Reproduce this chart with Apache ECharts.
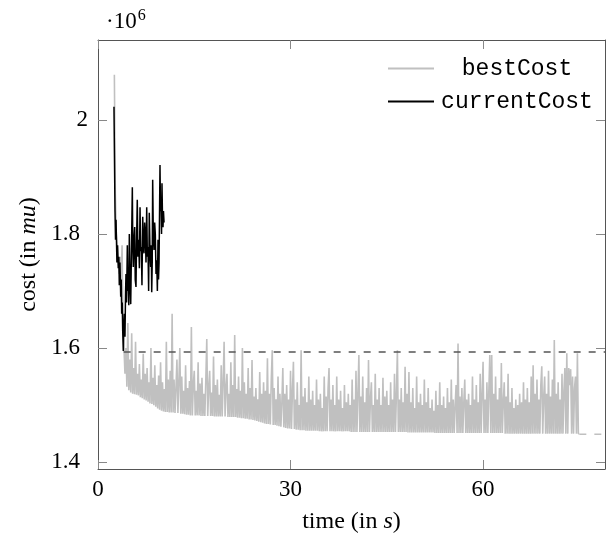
<!DOCTYPE html>
<html>
<head>
<meta charset="utf-8">
<script src="https://cdn.jsdelivr.net/npm/echarts@6/dist/echarts.min.js"></script>
<style>
  html, body { margin: 0; padding: 0; background: #fff; }
  #chart { width: 608px; height: 544px; }
</style>
</head>
<body>
<div id="chart"></div>
<script>
const xTicks = [0, 30, 60];
const yTicks = [1.4, 1.6, 1.8, 2];
const seriesNames = ['bestCost', 'currentCost'];

// bestCost is logged on a regular time grid (s), cost in 10^6 mu
const bestCostStart = 2.55;
const bestCostStep = 0.15;
const bestCostValues = [
  2.079, 1.87, 1.80, 1.78, 1.75, 1.73, 1.76, 1.72, 1.78, 1.64,
  1.60, 1.555, 1.60, 1.532, 1.644, 1.526, 1.58, 1.522, 1.626, 1.52,
  1.565, 1.519, 1.611, 1.518, 1.555, 1.517, 1.572, 1.514, 1.545, 1.512,
  1.59, 1.51, 1.555, 1.508, 1.565, 1.506, 1.54, 1.503, 1.60, 1.502,
  1.548, 1.50, 1.57, 1.497, 1.535, 1.494, 1.552, 1.492, 1.575, 1.49,
  1.54, 1.489, 1.528, 1.488, 1.611, 1.488, 1.545, 1.487, 1.56, 1.487,
  1.66, 1.487, 1.545, 1.486, 1.53, 1.58, 1.486, 1.54, 1.60, 1.485,
  1.55, 1.485, 1.525, 1.484, 1.57, 1.483, 1.53, 1.483, 1.542, 1.482,
  1.637, 1.482, 1.535, 1.56, 1.482, 1.525, 1.482, 1.575, 1.482, 1.538,
  1.481, 1.548, 1.481, 1.52, 1.481, 1.545, 1.616, 1.481, 1.53, 1.56,
  1.481, 1.522, 1.481, 1.585, 1.480, 1.535, 1.480, 1.545, 1.480, 1.518,
  1.48, 1.57, 1.48, 1.54, 1.611, 1.48, 1.53, 1.555, 1.479, 1.52,
  1.479, 1.575, 1.479, 1.535, 1.479, 1.623, 1.479, 1.528, 1.478, 1.55,
  1.478, 1.525, 1.477, 1.60, 1.477, 1.54, 1.476, 1.52, 1.476, 1.565,
  1.475, 1.53, 1.475, 1.579, 1.474, 1.515, 1.473, 1.53, 1.472, 1.51,
  1.471, 1.558, 1.470, 1.52, 1.469, 1.54, 1.468, 1.525, 1.467, 1.582,
  1.467, 1.52, 1.466, 1.545, 1.596, 1.465, 1.53, 1.465, 1.51, 1.464,
  1.55, 1.463, 1.52, 1.462, 1.505, 1.565, 1.461, 1.52, 1.46, 1.535,
  1.459, 1.51, 1.459, 1.56, 1.458, 1.525, 1.576, 1.458, 1.51, 1.457,
  1.54, 1.457, 1.50, 1.456, 1.596, 1.456, 1.515, 1.456, 1.53, 1.455,
  1.505, 1.455, 1.55, 1.455, 1.51, 1.455, 1.525, 1.455, 1.50, 1.455,
  1.545, 1.455, 1.51, 1.454, 1.52, 1.454, 1.495, 1.454, 1.55, 1.454,
  1.515, 1.454, 1.53, 1.565, 1.454, 1.51, 1.454, 1.535, 1.454, 1.50,
  1.454, 1.55, 1.454, 1.51, 1.454, 1.525, 1.454, 1.495, 1.454, 1.535,
  1.454, 1.505, 1.454, 1.52, 1.454, 1.50, 1.453, 1.545, 1.453, 1.51,
  1.453, 1.56, 1.453, 1.52, 1.588, 1.453, 1.515, 1.453, 1.55, 1.453,
  1.505, 1.453, 1.53, 1.453, 1.579, 1.453, 1.51, 1.54, 1.453, 1.50,
  1.453, 1.555, 1.453, 1.51, 1.453, 1.53, 1.453, 1.50, 1.453, 1.548,
  1.453, 1.515, 1.453, 1.525, 1.453, 1.50, 1.453, 1.54, 1.453, 1.51,
  1.453, 1.555, 1.453, 1.52, 1.596, 1.453, 1.51, 1.453, 1.53, 1.453,
  1.505, 1.453, 1.567, 1.453, 1.52, 1.452, 1.558, 1.452, 1.505, 1.452,
  1.53, 1.452, 1.495, 1.452, 1.55, 1.452, 1.505, 1.452, 1.52, 1.452,
  1.50, 1.452, 1.545, 1.452, 1.505, 1.452, 1.53, 1.452, 1.495, 1.452,
  1.51, 1.452, 1.49, 1.451, 1.525, 1.451, 1.50, 1.451, 1.54, 1.451,
  1.50, 1.451, 1.515, 1.451, 1.495, 1.451, 1.53, 1.451, 1.505, 1.451,
  1.545, 1.451, 1.51, 1.451, 1.50, 1.535, 1.451, 1.608, 1.451, 1.515,
  1.451, 1.53, 1.451, 1.505, 1.545, 1.451, 1.51, 1.451, 1.52, 1.451,
  1.50, 1.451, 1.55, 1.451, 1.51, 1.451, 1.535, 1.451, 1.505, 1.451,
  1.555, 1.451, 1.52, 1.576, 1.451, 1.51, 1.451, 1.54, 1.451, 1.525,
  1.588, 1.451, 1.588, 1.451, 1.52, 1.451, 1.55, 1.451, 1.51, 1.451,
  1.53, 1.451, 1.574, 1.451, 1.505, 1.54, 1.450, 1.515, 1.450, 1.555,
  1.450, 1.505, 1.450, 1.53, 1.450, 1.495, 1.450, 1.51, 1.450, 1.50,
  1.450, 1.52, 1.450, 1.505, 1.450, 1.54, 1.450, 1.51, 1.450, 1.53,
  1.450, 1.505, 1.450, 1.55, 1.450, 1.570, 1.450, 1.52, 1.450, 1.545,
  1.450, 1.51, 1.450, 1.535, 1.568, 1.450, 1.515, 1.55, 1.450, 1.52,
  1.450, 1.56, 1.450, 1.515, 1.450, 1.545, 1.450, 1.614, 1.450, 1.52,
  1.450, 1.54, 1.450, 1.51, 1.450, 1.555, 1.450, 1.525, 1.565, 1.450,
  1.591, 1.450, 1.565, 1.535, 1.563, 1.450, 1.55, 1.450, 1.53, 1.55,
  1.450, 1.591, 1.450, 1.450
];

// [time in s, cost in 10^6 mu]
const currentCost = [
  [2.49, 2.023], [2.57, 1.93], [2.65, 1.84], [2.73, 1.79], [2.81, 1.825], [2.95, 1.75], [3.05, 1.78],
  [3.16, 1.74], [3.25, 1.76], [3.32, 1.71], [3.42, 1.75], [3.54, 1.69], [3.62, 1.72], [3.69, 1.66],
  [3.78, 1.68], [3.85, 1.63], [3.94, 1.595], [4.02, 1.64], [4.10, 1.66], [4.2, 1.62], [4.3, 1.70],
  [4.36, 1.73], [4.45, 1.68], [4.57, 1.78], [4.65, 1.70], [4.72, 1.72], [4.8, 1.675], [4.88, 1.80],
  [4.98, 1.72], [5.10, 1.677], [5.2, 1.76], [5.35, 1.882], [5.42, 1.78], [5.50, 1.742], [5.6, 1.79],
  [5.72, 1.812], [5.8, 1.72], [5.92, 1.707], [6.0, 1.78], [6.12, 1.86], [6.22, 1.76], [6.34, 1.79],
  [6.45, 1.74], [6.55, 1.847], [6.65, 1.77], [6.75, 1.777], [6.85, 1.71], [6.97, 1.83], [7.07, 1.78],
  [7.17, 1.766], [7.27, 1.82], [7.37, 1.80], [7.48, 1.75], [7.59, 1.847], [7.69, 1.76], [7.79, 1.777],
  [7.89, 1.70], [7.99, 1.837], [8.1, 1.77], [8.21, 1.742], [8.3, 1.78], [8.37, 1.698], [8.45, 1.75],
  [8.52, 1.895], [8.62, 1.80], [8.73, 1.772], [8.83, 1.82], [8.93, 1.80], [9.04, 1.73], [9.15, 1.754],
  [9.25, 1.70], [9.35, 1.79], [9.43, 1.72], [9.51, 1.749], [9.6, 1.85], [9.66, 1.921], [9.74, 1.84],
  [9.82, 1.86], [9.9, 1.80], [9.97, 1.889], [10.05, 1.83], [10.13, 1.812], [10.2, 1.84], [10.29, 1.82]
];

// dashed reference levels
const currentCostLevel = [[4.0, 1.593], [79, 1.593]];
const bestCostLevel = [[75, 1.449], [79, 1.449]];

const bestCost = bestCostValues.map((v, i) => [+(bestCostStart + i * bestCostStep).toFixed(2), v]);

const serif = '"Liberation Serif", "DejaVu Serif", serif';
const mono = '"Liberation Mono", "DejaVu Sans Mono", monospace';
const axisColor = '#555';
const tickColor = '#888';

const chart = echarts.init(document.getElementById('chart'));

function frameAxis(position, min, max, ticks) {
  return {
    type: 'value',
    position: position,
    min: min,
    max: max,
    axisLine: { show: true, onZero: false, lineStyle: { color: axisColor, width: 1 } },
    axisTick: { show: true, inside: true, length: 9, customValues: ticks, lineStyle: { color: tickColor } },
    axisLabel: { show: false },
    splitLine: { show: false },
  };
}

chart.setOption({
  animation: false,
  backgroundColor: '#fff',
  grid: { left: 98, right: 3, top: 40, bottom: 75, outerBoundsMode: 'none' },
  legend: {
    data: seriesNames,
    orient: 'vertical',
    left: 388,
    top: 57,
    padding: 0,
    itemGap: 10,
    itemWidth: 46,
    itemHeight: 2,
    icon: 'rect',
    formatter: (name) => '{t|' + name + '}',
    textStyle: {
      rich: {
        t: { fontFamily: mono, fontSize: 23, width: 156, align: 'center', lineHeight: 22, color: '#000' },
      },
    },
  },
  graphic: [
    {
      type: 'text',
      left: 106,
      top: 8,
      style: {
        text: '{a|·10}{b|6}',
        rich: {
          a: { fontFamily: serif, fontSize: 23, fill: '#000' },
          b: { fontFamily: serif, fontSize: 16, fill: '#000', padding: [0, 0, 12, 1] },
        },
      },
    },
  ],
  xAxis: [
    {
      type: 'value',
      position: 'bottom',
      min: 0,
      max: 79,
      interval: 30,
      name: '{r|time (in }{i|s}{r|)}',
      nameLocation: 'middle',
      nameGap: 41,
      nameTextStyle: {
        rich: {
          r: { fontFamily: serif, fontSize: 24, color: '#000' },
          i: { fontFamily: serif, fontSize: 24, fontStyle: 'italic', color: '#000' },
        },
      },
      axisLine: { show: true, onZero: false, lineStyle: { color: axisColor, width: 1 } },
      axisTick: { show: true, inside: true, length: 9, customValues: xTicks, lineStyle: { color: tickColor } },
      axisLabel: { customValues: xTicks, margin: 9, fontFamily: serif, fontSize: 23, color: '#000' },
      splitLine: { show: false },
    },
    frameAxis('top', 0, 79, xTicks),
  ],
  yAxis: [
    {
      type: 'value',
      position: 'left',
      min: 1.388,
      max: 2.14,
      name: '{r|cost (in }{i|mu}{r|)}',
      nameLocation: 'middle',
      nameGap: 56,
      nameTextStyle: {
        rich: {
          r: { fontFamily: serif, fontSize: 24, color: '#000' },
          i: { fontFamily: serif, fontSize: 24, fontStyle: 'italic', color: '#000' },
        },
      },
      axisLine: { show: true, onZero: false, lineStyle: { color: axisColor, width: 1 } },
      axisTick: { show: true, inside: true, length: 9, customValues: yTicks, lineStyle: { color: tickColor } },
      axisLabel: {
        customValues: yTicks,
        margin: 10,
        formatter: (v) => (v === 2 ? '{w|2}' : '{n|' + v.toFixed(1) + '}'),
        rich: {
          w: { fontFamily: serif, fontSize: 23, color: '#000' },
          n: { fontFamily: serif, fontSize: 23, color: '#000', padding: [0, 8, 0, 0] },
        },
      },
      splitLine: { show: false },
    },
    frameAxis('right', 1.388, 2.14, yTicks),
  ],
  series: [
    {
      name: 'bestCost',
      type: 'line',
      data: bestCost,
      showSymbol: false,
      symbol: 'none',
      color: '#c0c0c0',
      lineStyle: { color: '#c0c0c0', width: 1.6 },
      z: 2,
    },
    {
      name: 'currentCost',
      type: 'line',
      data: currentCost,
      showSymbol: false,
      symbol: 'none',
      color: '#000',
      lineStyle: { color: '#000', width: 1.5 },
      z: 3,
    },
    {
      name: 'currentCostLevel',
      type: 'line',
      data: currentCostLevel,
      symbol: 'none',
      lineStyle: { color: '#555', width: 1.4, type: [7, 8] },
      z: 4,
    },
    {
      name: 'bestCostLevel',
      type: 'line',
      data: bestCostLevel,
      symbol: 'none',
      lineStyle: { color: '#c0c0c0', width: 1.4, type: [7, 8] },
      z: 4,
    },
  ],
});
</script>
</body>
</html>
